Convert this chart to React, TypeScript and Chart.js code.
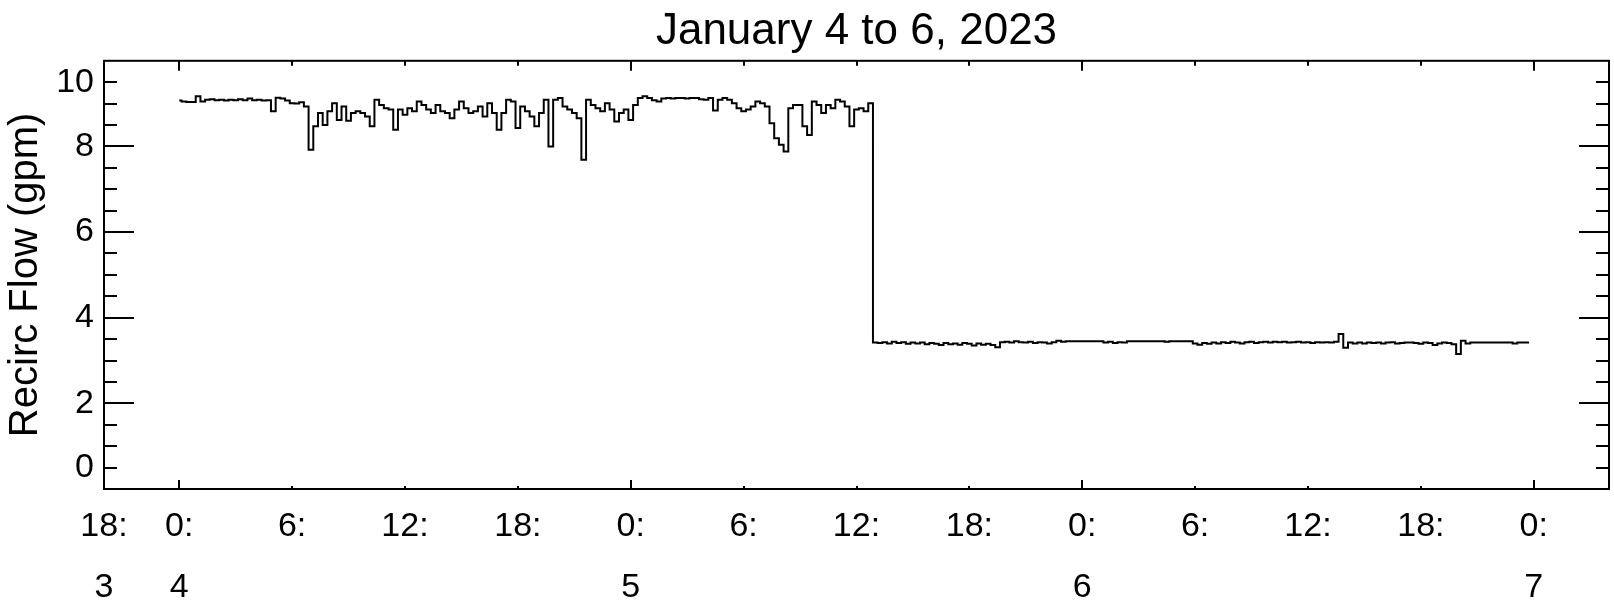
import { useEffect, useRef } from 'react';
import { Chart, registerables } from 'chart.js';

Chart.register(...registerables);

const TITLE = 'January 4 to 6, 2023';
const Y_TITLE = 'Recirc Flow (gpm)';
const FONT = "'Liberation Sans', Arial, Helvetica, sans-serif";

// samples every 15 minutes, starting Jan 4 00:00 (hour 0)
const SAMPLE_START_HOUR = 0;
const SAMPLE_STEP_HOURS = 0.25;

const FLOW_JAN4 = [
  9.07, 9.05, 9.04, 9.04, 9.17, 9.05, 9.09, 9.10, 9.08, 9.09,
  9.07, 9.09, 9.08, 9.10, 9.08, 9.12, 9.08, 9.09, 9.07, 9.08,
  8.82, 9.14, 9.12, 9.07, 9.01, 9.00, 9.03, 8.93, 7.92, 8.47,
  8.78, 8.50, 8.82, 9.01, 8.62, 8.93, 8.60, 8.78, 8.82, 8.78,
  8.70, 8.47, 9.09, 8.97, 8.89, 8.86, 8.39, 8.86, 8.74, 8.89,
  8.82, 9.05, 8.97, 8.86, 8.78, 8.97, 8.82, 8.78, 8.66, 8.86,
  9.05, 8.89, 8.78, 8.82, 8.93, 8.70, 9.01, 8.78, 8.39, 8.78,
  9.09, 9.05, 8.43, 8.93, 8.82, 8.70, 8.47, 8.78, 9.09, 8.00,
  9.09, 9.13, 8.93, 8.86, 8.78, 8.66, 7.69, 9.09, 8.97, 8.89,
  8.82, 9.01, 8.86, 8.58, 8.78, 8.86,
];

const FLOW_JAN5 = [
  8.62, 8.97, 9.13, 9.17,
  9.13, 9.08, 9.05, 9.12, 9.13, 9.12, 9.13, 9.13, 9.12, 9.13,
  9.13, 9.10, 9.09, 9.13, 8.84, 9.09, 9.13, 9.09, 9.01, 8.89,
  8.82, 8.86, 8.93, 9.05, 9.01, 8.93, 8.54, 8.19, 8.04, 7.88,
  8.89, 8.97, 8.97, 8.47, 8.27, 9.05, 8.97, 8.78, 8.97, 8.89,
  9.09, 9.05, 8.93, 8.47, 8.86, 8.89, 8.82, 9.01,
  3.42, 3.41, 3.43, 3.40, 3.44, 3.41, 3.43, 3.39, 3.42, 3.40, 3.42, 3.38,
  3.41, 3.39, 3.36, 3.41, 3.38, 3.40, 3.37, 3.41, 3.39, 3.35,
  3.40, 3.37, 3.39, 3.36, 3.31, 3.43, 3.44, 3.42, 3.45, 3.43,
  3.42, 3.44, 3.41, 3.43, 3.42, 3.40, 3.43, 3.46, 3.44, 3.45,
  3.45, 3.45,
];

const FLOW_JAN6 = [
  3.45, 3.45, 3.45, 3.45, 3.45,
  3.42, 3.44, 3.41, 3.43, 3.42,
  3.45, 3.45, 3.45, 3.45, 3.45, 3.45, 3.45, 3.45, 3.44, 3.45, 3.45, 3.45, 3.45, 3.45,
  3.40, 3.37, 3.41, 3.39, 3.42, 3.40, 3.43, 3.41, 3.44, 3.42, 3.40, 3.43,
  3.44, 3.41, 3.43, 3.44, 3.42, 3.44, 3.43, 3.44, 3.42, 3.43, 3.44, 3.42,
  3.43, 3.41, 3.43, 3.42, 3.43, 3.42, 3.44, 3.62, 3.30, 3.42,
  3.40, 3.42, 3.40, 3.42, 3.41, 3.42, 3.40, 3.42, 3.43, 3.40,
  3.41, 3.42, 3.42, 3.41, 3.39, 3.42, 3.41, 3.36, 3.40, 3.42,
  3.41, 3.38, 3.15, 3.46, 3.40, 3.42, 3.42, 3.42, 3.42, 3.42,
  3.42, 3.42, 3.42, 3.42, 3.40, 3.42, 3.42, 3.42,
];

const X_MIN_HOUR = -4;
const X_MAX_HOUR = 76;
const X_TICK_HOURS = [-4, 0, 6, 12, 18, 24, 30, 36, 42, 48, 54, 60, 66, 72];
const X_HOUR_LABELS = ['18:', '0:', '6:', '12:', '18:', '0:', '6:', '12:', '18:', '0:', '6:', '12:', '18:', '0:'];
const X_DAY_LABELS = ['3', '4', '', '', '', '5', '', '', '', '6', '', '', '', '7'];

const Y_MIN = 0;
const Y_MAX = 10;
const Y_TICK_VALUES = [0.5, 2, 4, 6, 8, 9.5];
const Y_TICK_LABELS = ['0', '2', '4', '6', '8', '10'];

const frameTicksPlugin = {
  id: 'frameTicks',
  afterDatasetsDraw(chart: any) {
    const { ctx, chartArea } = chart;
    const { left, right, top, bottom } = chartArea;
    const xs = chart.scales.x;
    const ys = chart.scales.y;
    ctx.save();
    ctx.strokeStyle = '#000';
    ctx.lineWidth = 2;
    ctx.strokeRect(left, top, right - left, bottom - top);
    ctx.beginPath();
    for (let v = Y_MIN + 0.5; v < Y_MAX; v += 0.5) {
      const py = Math.round(ys.getPixelForValue(v));
      const len = v % 2 === 0 ? 30 : 13;
      ctx.moveTo(left, py);
      ctx.lineTo(left + len, py);
      ctx.moveTo(right, py);
      ctx.lineTo(right - len, py);
    }
    for (const h of X_TICK_HOURS) {
      if (h <= X_MIN_HOUR) continue;
      const px = Math.round(xs.getPixelForValue(h));
      const isDay = h % 24 === 0;
      ctx.moveTo(px, bottom);
      ctx.lineTo(px, bottom - (isDay ? 9 : 3));
      ctx.moveTo(px, top);
      ctx.lineTo(px, top + (isDay ? 10 : 5));
    }
    ctx.stroke();
    ctx.restore();
  },
};

export default function App() {
  const canvasRef = useRef<HTMLCanvasElement | null>(null);

  useEffect(() => {
    document.body.style.margin = '0';
    const canvas = canvasRef.current;
    if (!canvas) return;
    const flow = [...FLOW_JAN4, ...FLOW_JAN5, ...FLOW_JAN6];
    const points = flow.map((v, i) => ({ x: SAMPLE_START_HOUR + i * SAMPLE_STEP_HOURS, y: v }));

    const chart = new Chart(canvas, {
      type: 'line',
      data: {
        datasets: [
          {
            data: points,
            borderColor: '#000',
            borderWidth: 2,
            pointRadius: 0,
            stepped: 'middle',
            fill: false,
          },
        ],
      },
      options: {
        animation: false,
        responsive: false,
        devicePixelRatio: 1,
        layout: { padding: { left: 0, right: 5, top: 0, bottom: 0 } },
        plugins: {
          legend: { display: false },
          tooltip: { enabled: false },
          title: {
            display: true,
            fullSize: false,
            text: TITLE,
            color: '#000',
            font: { family: FONT, size: 44, weight: 'normal' },
            padding: { top: 5, bottom: 3 },
          },
        },
        scales: {
          x: {
            type: 'linear',
            position: 'bottom',
            min: X_MIN_HOUR,
            max: X_MAX_HOUR,
            grid: { display: false, drawTicks: false },
            border: { display: false },
            afterBuildTicks: (scale: any) => {
              scale.ticks = X_TICK_HOURS.map((v) => ({ value: v }));
            },
            afterFit: (scale: any) => {
              scale.height = 117;
            },
            ticks: {
              autoSkip: false,
              maxRotation: 0,
              minRotation: 0,
              padding: 7,
              color: '#000',
              font: { family: FONT, size: 34, lineHeight: 1.8 },
              callback: (value: any) => {
                const i = X_TICK_HOURS.indexOf(Number(value));
                return i < 0 ? '' : [X_HOUR_LABELS[i], X_DAY_LABELS[i]];
              },
            },
          },
          y: {
            type: 'linear',
            min: Y_MIN,
            max: Y_MAX,
            grid: { display: false, drawTicks: false },
            border: { display: false },
            afterBuildTicks: (scale: any) => {
              scale.ticks = Y_TICK_VALUES.map((v) => ({ value: v }));
            },
            afterFit: (scale: any) => {
              scale.width = 104;
            },
            ticks: {
              padding: 10,
              color: '#000',
              font: { family: FONT, size: 34 },
              callback: (value: any) => {
                const i = Y_TICK_VALUES.indexOf(Number(value));
                return i < 0 ? '' : Y_TICK_LABELS[i];
              },
            },
            title: {
              display: true,
              text: Y_TITLE,
              color: '#000',
              font: { family: FONT, size: 40 },
              padding: { top: 2, bottom: 0 },
            },
          },
        },
      },
      plugins: [frameTicksPlugin],
    });

    return () => chart.destroy();
  }, []);

  return (
    <div style={{ width: 1614, height: 606 }}>
      <canvas ref={canvasRef} width={1614} height={606} style={{ display: 'block' }} />
    </div>
  );
}
